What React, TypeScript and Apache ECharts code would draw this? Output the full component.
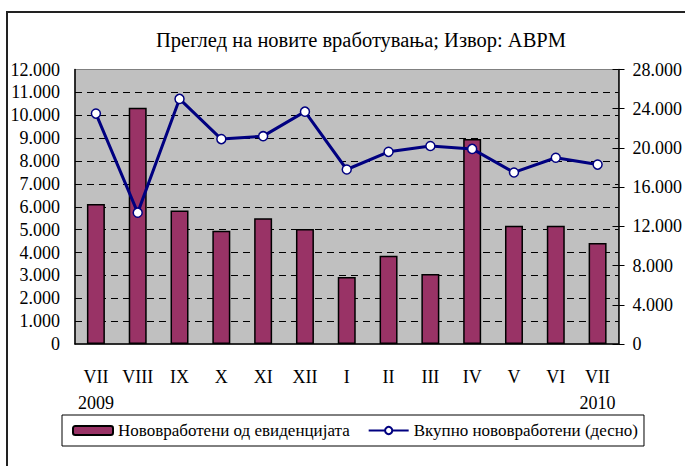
import React, { useEffect, useRef } from "react";
import * as echarts from "echarts";

const months = ["VII", "VIII", "IX", "X", "XI", "XII", "I", "II", "III", "IV", "V", "VI", "VII"];
const years = ["2009", "", "", "", "", "", "", "", "", "", "", "", "2010"];
const newFromRegister = [6120, 10330, 5840, 4950, 5500, 5030, 2930, 3860, 3060, 8960, 5170, 5170, 4410];
const totalNew = [23500, 13400, 25000, 20900, 21200, 23700, 17800, 19600, 20200, 19900, 17500, 19000, 18300];
const titleText = "Преглед на новите вработувања; Извор: АВРМ";
const barName = "Нововработени од евиденцијата";
const lineName = "Вкупно нововработени (десно)";

const FONT = "Liberation Serif";
const fmt = (v: number) => String(v).replace(/\B(?=(\d{3})+(?!\d))/g, ".");

export default function App() {
  const ref = useRef<HTMLDivElement>(null);
  useEffect(() => {
    if (!ref.current) return;
    const chart = echarts.init(ref.current, null, { renderer: "svg" });
    chart.setOption({
      animation: false,
      backgroundColor: "#ffffff",
      textStyle: { fontFamily: FONT, color: "#000" },
      graphic: [
        {
          type: "rect",
          shape: { x: 7, y: 12, width: 720, height: 520 },
          style: { fill: "none", stroke: "#222", lineWidth: 2 },
          silent: true,
        },
        {
          type: "text",
          x: 361,
          y: 40,
          style: {
            text: titleText,
            fontFamily: FONT,
            fontSize: 20.5,
            fill: "#000",
            textAlign: "center",
            textVerticalAlign: "middle",
          },
        },
      ],
      legend: {
        left: 62,
        top: 415,
        orient: "horizontal",
        backgroundColor: "#fff",
        borderColor: "#000",
        borderWidth: 1,
        borderRadius: 0,
        padding: [7, 6, 7, 10],
        itemGap: 18,
        itemWidth: 40,
        itemHeight: 9,
        textStyle: { fontFamily: FONT, fontSize: 17, color: "#000" },
        data: [barName, lineName],
      },
      grid: {
        left: 75,
        right: 66,
        top: 69.5,
        bottom: 122,
        show: true,
        backgroundColor: "#c0c0c0",
        borderColor: "#808080",
        borderWidth: 1,
      },
      xAxis: {
        type: "category",
        data: months,
        axisLine: { show: true, lineStyle: { color: "#000", width: 1.5 } },
        axisTick: { show: false },
        axisLabel: {
          interval: 0,
          margin: 20,
          fontFamily: FONT,
          fontSize: 18,
          lineHeight: 26,
          color: "#000",
          formatter: (v: string, i: number) => (years[i] ? v + "\n" + years[i] : v),
        },
      },
      yAxis: [
        {
          type: "value",
          min: 0,
          max: 12000,
          interval: 1000,
          position: "left",
          axisLine: { show: true, lineStyle: { color: "#000", width: 1.5 } },
          axisTick: { show: false },
          axisLabel: { margin: 15, fontFamily: FONT, fontSize: 18, color: "#000", formatter: fmt },
          splitLine: {
            show: true,
            showMinLine: false,
            showMaxLine: false,
            lineStyle: { color: "#000", type: [7, 5], width: 1 },
          },
        },
        {
          type: "value",
          min: 0,
          max: 28000,
          interval: 4000,
          position: "right",
          axisLine: { show: true, lineStyle: { color: "#000", width: 1.5 } },
          axisTick: { show: true, length: 6, lineStyle: { color: "#000" } },
          axisLabel: { margin: 14, fontFamily: FONT, fontSize: 18, color: "#000", formatter: fmt },
          splitLine: { show: false },
        },
        {
          type: "value",
          min: 0,
          max: 28000,
          interval: 4000,
          position: "right",
          axisLine: { show: false },
          axisTick: { show: true, inside: true, length: 6, lineStyle: { color: "#000" } },
          axisLabel: { show: false },
          splitLine: { show: false },
        },
      ],
      series: [
        {
          name: barName,
          type: "bar",
          yAxisIndex: 0,
          data: newFromRegister,
          barWidth: "43%",
          itemStyle: { color: "#993366", borderColor: "#000", borderWidth: 1.5 },
        },
        {
          name: lineName,
          type: "line",
          yAxisIndex: 1,
          data: totalNew,
          symbol: "circle",
          symbolSize: 9,
          lineStyle: { color: "#000080", width: 3 },
          itemStyle: { color: "#ffffff", borderColor: "#000080", borderWidth: 1.5 },
        },
      ],
    });
    return () => chart.dispose();
  }, []);
  return (
    <div
      ref={ref}
      style={{ position: "fixed", left: 0, top: 0, width: 685, height: 466 }}
    />
  );
}
